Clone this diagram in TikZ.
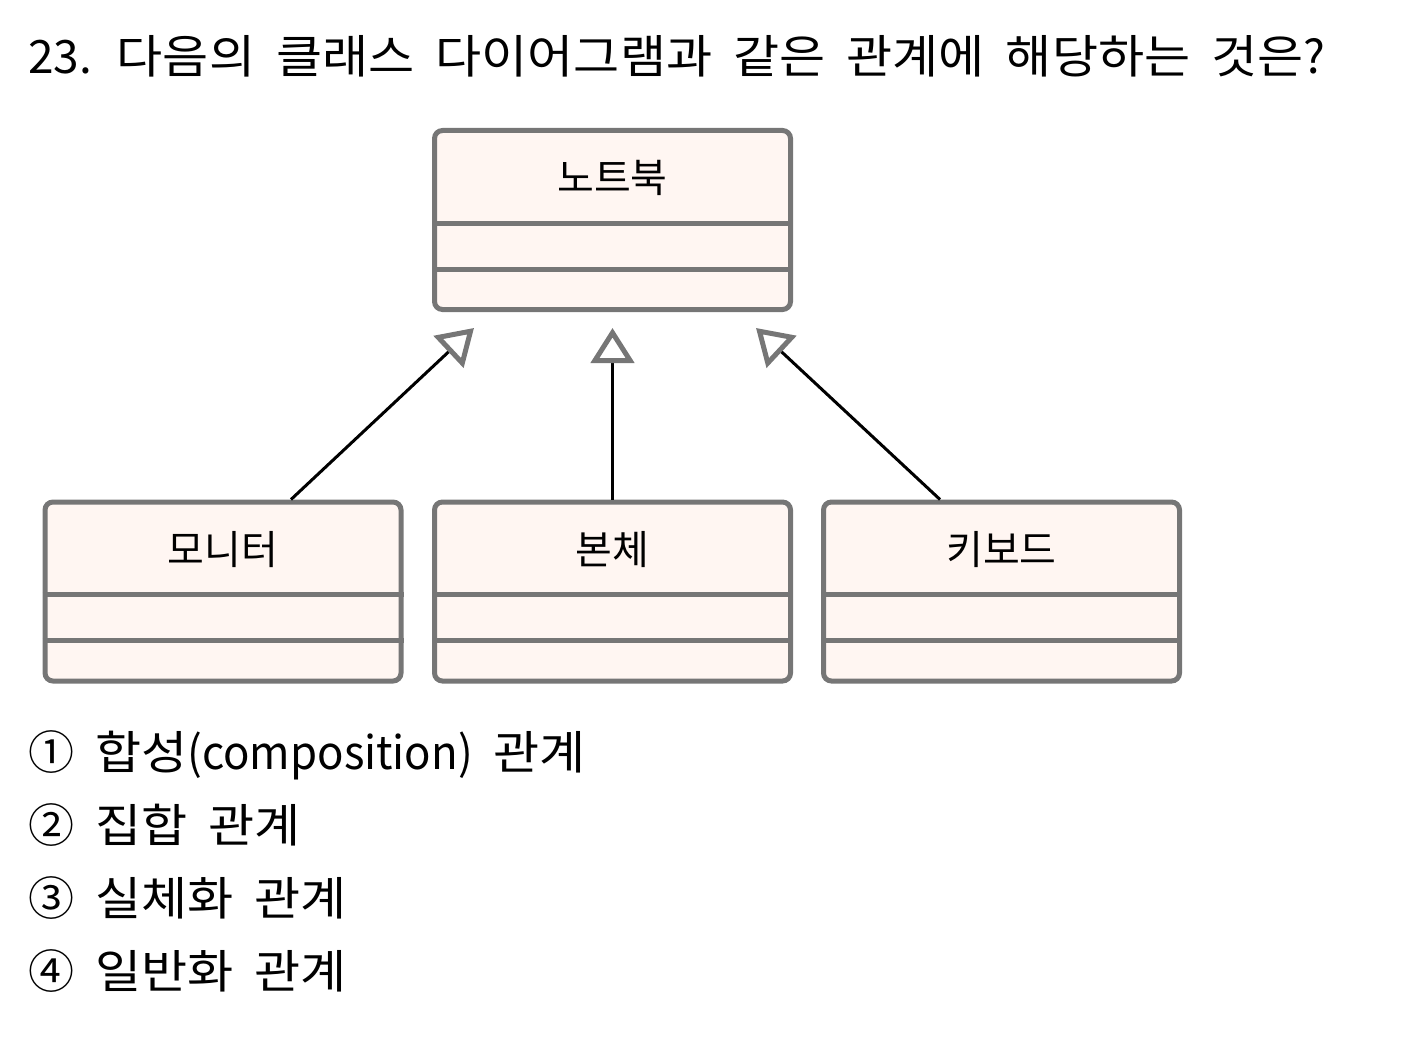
\documentclass[tikz,border=0pt]{standalone}
\usepackage{fontspec}
\setmainfont[FakeStretch=1.09]{Noto Sans CJK KR}
\newfontfamily\plainfont{Noto Sans CJK KR}
\newfontfamily\narrowfont[FakeStretch=0.95]{Noto Sans CJK KR}
\usetikzlibrary{arrows.meta}
\definecolor{boxgray}{HTML}{767676}
\definecolor{boxfill}{HTML}{FFF6F2}
\newcommand{\bigfnt}{\fontsize{46pt}{50pt}\selectfont\spaceskip=21pt\relax}
\begin{document}
\begin{tikzpicture}[x=1pt,y=-1pt,
  classbox/.style={draw=boxgray, fill=boxfill, line width=5pt, rounded corners=8pt,
    minimum width=356pt, minimum height=179pt, inner sep=0pt},
  divider/.style={draw=boxgray, line width=5pt},
  classname/.style={font={\plainfont\fontsize{40pt}{44pt}\selectfont}, inner sep=0pt},
  gen/.style={draw=black, line width=3pt,
    -{Triangle[open, length=35pt, width=43pt, line width=5pt, color=boxgray]}},
  bigtext/.style={font=\bigfnt, inner sep=0pt, anchor=base west}]
\useasboundingbox (0,0) rectangle (1415,1051);
% title
\node[bigtext] (title) at (28,74) {{\plainfont 23.} 다음의 클래스 다이어그램과 같은 관계에 해당하는 것은{\plainfont ?}};
% class boxes
\node[classbox, anchor=north] (nb) at (612.5,128) {};
\node[classbox, anchor=north] (mon) at (223,499.5) {};
\node[classbox, anchor=north] (bon) at (612.5,499.5) {};
\node[classbox, anchor=north] (key) at (1001.5,499.5) {};
\foreach \b in {nb,mon,bon,key}{
  \draw[divider] ([yshift=-95pt]\b.north west) -- ([yshift=-95pt]\b.north east);
  \draw[divider] ([yshift=-141pt]\b.north west) -- ([yshift=-141pt]\b.north east);
}
\node[classname] (nbl) at ([yshift=-50pt]nb.north) {노트북};
\node[classname] (monl) at ([yshift=-50pt]mon.north) {모니터};
\node[classname] (bonl) at ([yshift=-50pt]bon.north) {본체};
\node[classname] (keyl) at ([yshift=-50pt]key.north) {키보드};
% generalization arrows
\coordinate (tL) at (474,328);
\coordinate (tM) at (612.5,328);
\coordinate (tR) at (756,328);
\draw[gen] ([xshift=68pt]mon.north) -- (tL);
\draw[gen] (bon.north) -- (tM);
\draw[gen] ([xshift=-61.5pt]key.north) -- (tR);
% answers
\node[bigtext] (a1) at (28,769) {{\plainfont ①} 합성{\narrowfont (composition)} 관계};
\node[bigtext] (a2) at (28,842) {{\plainfont ②} 집합 관계};
\node[bigtext] (a3) at (28,915) {{\plainfont ③} 실체화 관계};
\node[bigtext] (a4) at (28,988) {{\plainfont ④} 일반화 관계};
\end{tikzpicture}
\end{document}
